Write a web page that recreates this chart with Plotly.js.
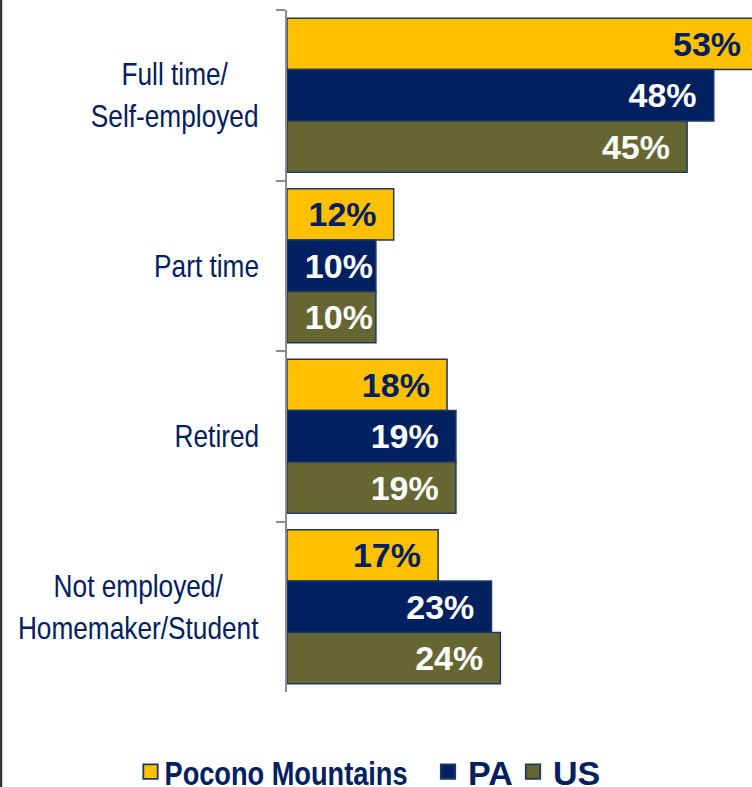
<!DOCTYPE html>
<html>
<head>
<meta charset="utf-8">
<script src="https://cdn.plot.ly/plotly-3.0.1.min.js"></script>
<style>html,body{margin:0;padding:0;background:#fff;}#chart{width:752px;height:787px;}</style>
</head>
<body>
<div id="chart"></div>
<script>
const categories = ["Full time/<br>Self-employed", "Part time", "Retired", "Not employed/<br>Homemaker/Student"];
const seriesNames = ["Pocono Mountains", "PA", "US"];
const pocono = [53, 12, 18, 17];
const pa = [48, 10, 19, 23];
const us = [45, 10, 19, 24];

const NAVY = "#002060";
const colors = ["#FFC000", "#002060", "#666633"];
const textColors = [NAVY, "#FFFFFF", "#FFFFFF"];
const seriesValues = [pocono, pa, us];
const legendIds = ["legend", "legend2", "legend3"];

const traces = seriesValues.map((vals, i) => ({
  type: "bar",
  orientation: "h",
  name: seriesNames[i],
  legend: legendIds[i],
  x: vals,
  y: categories,
  marker: { color: colors[i], line: { color: "#1F3864", width: 1.5 } },
  texttemplate: vals.map(v => v <= 10 ? "%{x}%" : "%{x}%\u2005\u2006"),
  textposition: "inside",
  insidetextanchor: "end",
  constraintext: "none",
  textfont: { family: "Liberation Sans, Arial, sans-serif", size: 34, weight: "bold", color: textColors[i] },
  hoverinfo: "skip",
  cliponaxis: true
}));

const W = 465, plotLeft = 287, plotTop = 10, H = 682;
const px2paperX = p => (p - plotLeft) / W;
const px2paperY = p => (plotTop + H - p) / H;

const annotations = categories.map(c => ({
  x: 0, xref: "paper", xanchor: "right", xshift: -26,
  y: c, yref: "y", yanchor: "middle",
  text: c, showarrow: false, align: "center",
  font: { family: "Liberation Sans, Arial, sans-serif", size: 32, color: NAVY }
}));

const legendFont = { family: "Liberation Sans, Arial, sans-serif", size: 34, weight: "bold", color: NAVY };
const legendX = [130.5, 428, 513];
function legendCfg(px) {
  return { orientation: "h", x: px2paperX(px), xanchor: "left", y: px2paperY(772), yanchor: "middle",
           font: legendFont, bgcolor: "rgba(0,0,0,0)" };
}

const layout = {
  width: 752, height: 787,
  margin: { l: 287, r: 0, t: 10, b: 95, autoexpand: false },
  paper_bgcolor: "#fff", plot_bgcolor: "#fff",
  barmode: "group",
  bargap: 0.097,
  bargroupgap: 0,
  showlegend: true,
  legend: legendCfg(legendX[0]),
  legend2: legendCfg(legendX[1]),
  legend3: legendCfg(legendX[2]),
  xaxis: { range: [0, 52.3], showticklabels: false, showgrid: false, zeroline: false, showline: false, fixedrange: true },
  yaxis: {
    autorange: "reversed",
    showticklabels: false,
    showgrid: false, zeroline: false,
    showline: true, linecolor: "#8c8c8c", linewidth: 2,
    ticks: "outside", ticklen: 9, tickwidth: 2, tickcolor: "#8c8c8c",
    tickson: "boundaries"
  },
  annotations: annotations,
  shapes: [{
    type: "line", xref: "paper", yref: "paper",
    x0: px2paperX(1), x1: px2paperX(1), y0: px2paperY(0), y1: px2paperY(787),
    line: { color: "#333333", width: 2.5 }
  }]
};

function condense(el, factor, anchor, dx) {
  const bb = el.getBBox();
  const ax = anchor === "right" ? bb.x + bb.width : bb.x;
  el.setAttribute("transform",
    "translate(" + (ax + (dx || 0)) + ",0) scale(" + factor + ",1) translate(" + (-ax) + ",0)");
}

Plotly.newPlot("chart", traces, layout, { displayModeBar: false, staticPlot: true }).then(gd => {
  gd.querySelectorAll(".annotation-text").forEach(t => condense(t, 0.82, "right", 0));
  gd.querySelectorAll(".legendtext").forEach(t => condense(t, 0.80, "left", -6));
  gd.querySelectorAll(".legendpoints path").forEach(p => {
    const tr = p.getAttribute("transform") || "";
    p.setAttribute("transform", tr + " scale(1.2)");
  });
});
</script>
</body>
</html>
